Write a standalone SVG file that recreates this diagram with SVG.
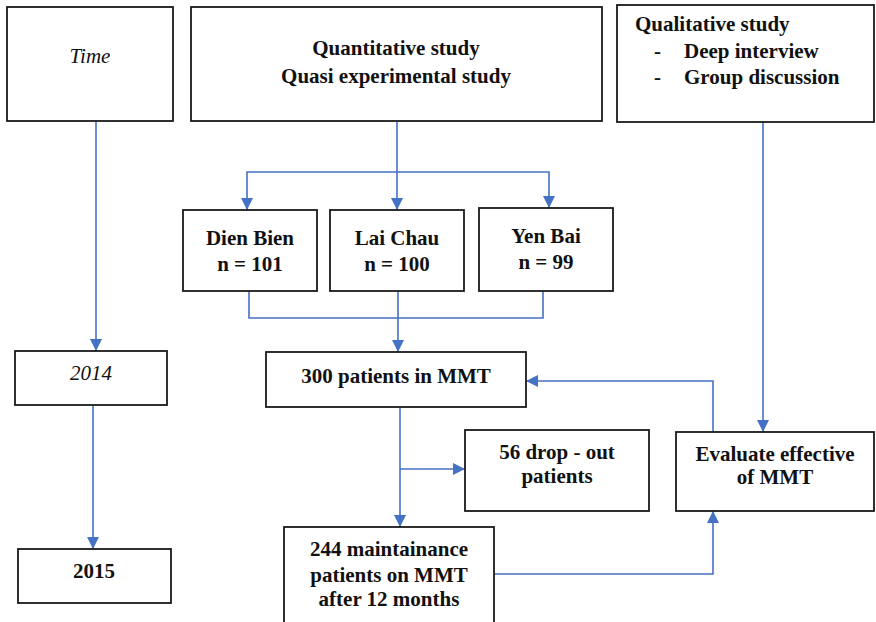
<svg xmlns="http://www.w3.org/2000/svg" width="876" height="622" viewBox="0 0 876 622">
<defs>
<style>
.box{fill:#fff;stroke:#1a1a1a;stroke-width:1.8}
.t{font-family:'Liberation Serif','Times New Roman','DejaVu Serif',serif;font-size:21px;font-weight:bold;fill:#111;text-anchor:middle}
.l{text-anchor:start}
.it{font-style:italic;font-weight:normal}
.c{fill:none;stroke:#4472C4;stroke-width:1.6}
</style>
<marker id="ah" markerUnits="userSpaceOnUse" markerWidth="12" markerHeight="12" refX="12" refY="6" orient="auto">
<path d="M0,0 L12,6 L0,12 z" fill="#4472C4"/>
</marker>
</defs>
<rect width="876" height="622" fill="#fff"/>
<g id="connectors">
<path class="c" d="M96,122 V351" marker-end="url(#ah)"/>
<path class="c" d="M93,405 V549" marker-end="url(#ah)"/>
<path class="c" d="M397,122 V210" marker-end="url(#ah)"/>
<path class="c" d="M397,172 H247 V210" marker-end="url(#ah)"/>
<path class="c" d="M397,172 H549 V208" marker-end="url(#ah)"/>
<path class="c" d="M249,291 V318 H543 V291"/>
<path class="c" d="M398,291 V352" marker-end="url(#ah)"/>
<path class="c" d="M400,407 V527" marker-end="url(#ah)"/>
<path class="c" d="M400,469 H465" marker-end="url(#ah)"/>
<path class="c" d="M763,122 V432" marker-end="url(#ah)"/>
<path class="c" d="M713,432 V381 H526" marker-end="url(#ah)"/>
<path class="c" d="M494,574 H713 V511" marker-end="url(#ah)"/>
</g>
<g id="time">
<rect class="box" x="7" y="7" width="166" height="114"/>
<text class="t it" x="90" y="63">Time</text>
</g>
<g id="quantitative">
<rect class="box" x="191" y="7" width="411" height="114"/>
<text class="t" x="396" y="55">Quantitative study</text>
<text class="t" x="396" y="83">Quasi experimental study</text>
</g>
<g id="qualitative">
<rect class="box" x="617" y="5" width="257" height="117"/>
<text class="t l" x="635" y="31">Qualitative study</text>
<text class="t l" x="654" y="58">-</text>
<text class="t l" x="684" y="58">Deep interview</text>
<text class="t l" x="654" y="84">-</text>
<text class="t l" x="684" y="84">Group discussion</text>
</g>
<g id="dien-bien">
<rect class="box" x="183" y="210" width="134" height="81"/>
<text class="t" x="250" y="245">Dien Bien</text>
<text class="t" x="250" y="271">n = 101</text>
</g>
<g id="lai-chau">
<rect class="box" x="330" y="210" width="134" height="81"/>
<text class="t" x="397" y="245">Lai Chau</text>
<text class="t" x="397" y="271">n = 100</text>
</g>
<g id="yen-bai">
<rect class="box" x="479" y="208" width="134" height="83"/>
<text class="t" x="546" y="243">Yen Bai</text>
<text class="t" x="546" y="269">n = 99</text>
</g>
<g id="patients-300">
<rect class="box" x="266" y="352" width="260" height="55"/>
<text class="t" x="396" y="383">300 patients in MMT</text>
</g>
<g id="dropout">
<rect class="box" x="465" y="430" width="184" height="81"/>
<text class="t" x="557" y="459">56 drop - out</text>
<text class="t" x="557" y="483">patients</text>
</g>
<g id="evaluate">
<rect class="box" x="676" y="432" width="198" height="79"/>
<text class="t" x="775" y="461">Evaluate effective</text>
<text class="t" x="775" y="484">of MMT</text>
</g>
<g id="maintenance-244">
<rect class="box" x="284" y="527" width="210" height="100"/>
<text class="t" x="389" y="556">244 maintainance</text>
<text class="t" x="389" y="582">patients on MMT</text>
<text class="t" x="389" y="606">after 12 months</text>
</g>
<g id="y2014">
<rect class="box" x="15" y="351" width="152" height="54"/>
<text class="t it" x="91" y="380">2014</text>
</g>
<g id="y2015">
<rect class="box" x="18" y="549" width="153" height="54"/>
<text class="t" x="94" y="578">2015</text>
</g>
</svg>
